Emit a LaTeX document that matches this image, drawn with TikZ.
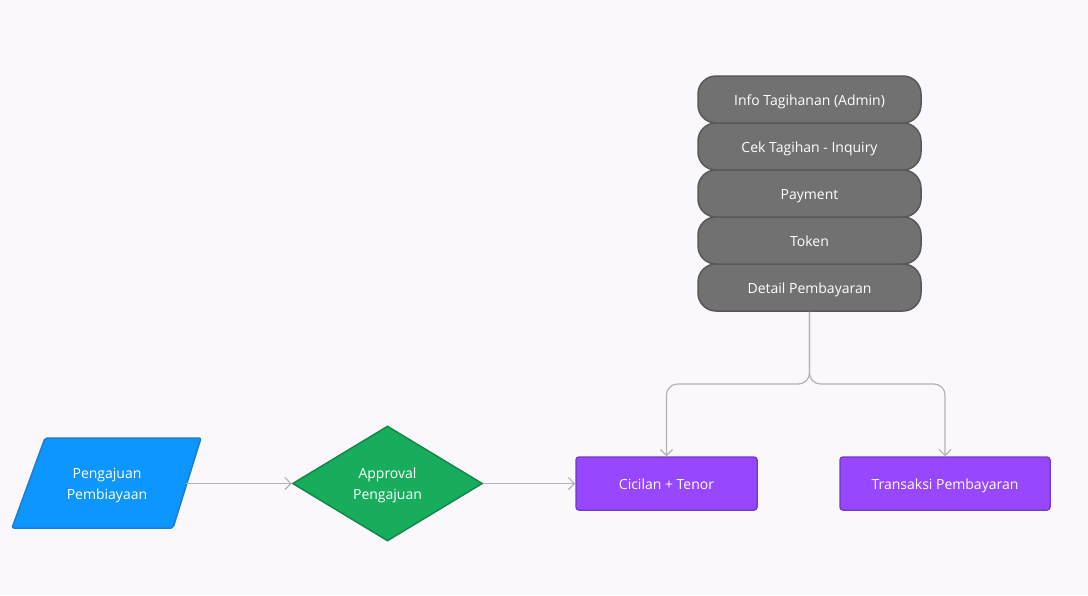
\documentclass[tikz,border=0pt]{standalone}
\usepackage{fontspec}
\setmainfont{Open Sans}
\usetikzlibrary{shapes.geometric,arrows.meta}

\definecolor{bgpage}{HTML}{FAF8FD}
\definecolor{stackfill}{HTML}{717171}
\definecolor{stackline}{HTML}{585858}
\definecolor{inputfill}{HTML}{0D96FD}
\definecolor{inputline}{HTML}{1A7FD2}
\definecolor{decisionfill}{HTML}{17AD5C}
\definecolor{decisionline}{HTML}{13894A}
\definecolor{processfill}{HTML}{9747FF}
\definecolor{processline}{HTML}{7A3BD1}
\definecolor{linkgray}{HTML}{B3B3B3}

\tikzset{every picture/.style={line width=0.75pt}}
\tikzset{
  stackbox/.style={draw=stackline, fill=stackfill, line width=1.5pt, rounded corners=18pt,
    minimum width=223pt, minimum height=47pt, text height=12pt, text depth=1pt,
    text=white, font=\fontsize{14}{17}\selectfont},
  processbox/.style={draw=processline, fill=processfill, line width=1.5pt, rounded corners=3pt,
    minimum height=53pt, text height=12pt, text depth=1pt,
    text=white, font=\fontsize{14}{17}\selectfont},
  decisionbox/.style={diamond, draw=decisionline, fill=decisionfill, line width=1.5pt, aspect=1.65,
    minimum width=190pt, minimum height=115pt, inner sep=0pt, text depth=0pt, text=white, align=center,
    font=\fontsize{14}{21}\selectfont},
  link/.style={draw=linkgray, line width=1.2pt, -{Straight Barb[length=6pt,width=12pt]}}
}

\begin{document}
\begin{tikzpicture}[x=1pt,y=1pt,yscale=-1]
%set diagram size
\fill [bgpage] (0,0) rectangle (1088,595);
\useasboundingbox (0,0) rectangle (1088,595);

%Stack boxes
\node [stackbox] (detail) at (809.5,287.5) {Detail Pembayaran};
\node [stackbox] (token) at (809.5,240.5) {Token};
\node [stackbox] (payment) at (809.5,193.5) {Payment};
\node [stackbox] (cek) at (809.5,146.5) {Cek Tagihan - Inquiry};
\node [stackbox] (info) at (809.5,99.5) {Info Tagihanan (Admin)};

%Shape: Parallelogram
\draw [draw=inputline, fill=inputfill, line width=1.5pt, rounded corners=2pt]
  (45,438) -- (201,438) -- (173,528) -- (12,528) -- cycle ;
\node [text=white, align=center, font=\fontsize{14}{21}\selectfont] (pengajuan) at (107,486) {Pengajuan\\Pembiayaan};
\coordinate (pengajuan-e) at (186,483.5);

%Shape: Diamond
\node [decisionbox] (approval) at (387.5,483.5) {Approval\\Pengajuan};

%Shape: Rectangles
\node [processbox, minimum width=181pt] (cicilan) at (666.5,483.5) {Cicilan + Tenor};
\node [processbox, minimum width=210pt] (transaksi) at (945,483.5) {Transaksi Pembayaran};

%Connectors
\draw [link] (pengajuan-e) -- (approval.west) ;
\draw [link] (approval.east) -- (cicilan.west) ;
\draw [link, rounded corners=11pt] (detail.south) -- (809.5,384) -| (cicilan.north) ;
\draw [link, rounded corners=11pt] (detail.south) -- (809.5,384) -| (transaksi.north) ;

\end{tikzpicture}
\end{document}
